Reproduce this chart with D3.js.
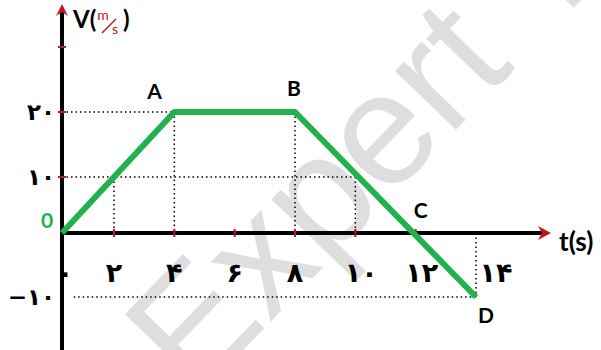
<!DOCTYPE html>
<html>
<head>
<meta charset="utf-8">
<script src="https://cdn.jsdelivr.net/npm/d3@7"></script>
<style>
  body { margin: 0; background: #fff; }
  svg { display: block; }
</style>
</head>
<body>
<script>
// v-t graph data
var times  = [0, 4, 8, 14];
var speeds = [0, 20, 20, -10];
var pointNames = ["O", "A", "B", "C", "D"];
var pointTimes = [0, 4, 8, 12, 14];
var pointSpeeds = [0, 20, 20, 0, -10];

var xTicks = [0, 2, 4, 6, 8, 10, 12, 14];
var xTickLabels = ["۰", "۲", "۴", "۶", "۸", "۱۰", "۱۲", "۱۴"];
var yTicks = [20, 10, -10];
var yTickLabels = ["۲۰", "۱۰", "−۱۰"];
var redYTicks = [10, 20, 30];
var redXTicks = [2, 4, 6, 8, 10, 12];

// dotted guide lines  [t0, v0, t1, v1]
var guides = [
  [0, 20, 4, 20], [0, 10, 10, 10], [0.45, -10, 14, -10],
  [2, 10, 2, 0], [4, 20, 4, 0], [8, 20, 8, 0], [10, 10, 10, 0], [14, 0, 14, -10]
];

var width = 601, height = 350;

var x = d3.scaleLinear().domain([0, 2, 14]).range([62, 114, 476]);
var y = d3.scaleLinear().domain([-10, 0, 10, 20, 30]).range([297, 233, 177, 112, 47]);

var svg = d3.select("body").append("svg")
    .attr("width", width)
    .attr("height", height);

// guides
svg.selectAll(".guide")
    .data(guides)
    .enter().append("line")
    .attr("class", "guide")
    .attr("x1", function(d) { return x(d[0]); })
    .attr("y1", function(d) { return y(d[1]); })
    .attr("x2", function(d) { return x(d[2]); })
    .attr("y2", function(d) { return y(d[3]); })
    .attr("stroke", "#000")
    .attr("stroke-width", 1.5)
    .attr("stroke-dasharray", "1.5,3");

// axes lines
svg.append("line")
    .attr("x1", x(0)).attr("y1", 8)
    .attr("x2", x(0)).attr("y2", height)
    .attr("stroke", "#000").attr("stroke-width", 4);
svg.append("line")
    .attr("x1", x(0)).attr("y1", y(0))
    .attr("x2", 546).attr("y2", y(0))
    .attr("stroke", "#000").attr("stroke-width", 4);

// red arrow heads
svg.append("path")
    .attr("d", "M" + (x(0) - 6) + ",16 L" + x(0) + ",4 L" + (x(0) + 6) + ",16 L" + x(0) + ",12 Z")
    .attr("fill", "#c0161c");
svg.append("path")
    .attr("d", "M538," + (y(0) - 7) + " L551," + y(0) + " L538," + (y(0) + 7) + " L542," + y(0) + " Z")
    .attr("fill", "#c0161c");

// red tick marks
svg.selectAll(".ytick")
    .data(redYTicks)
    .enter().append("line")
    .attr("x1", x(0) - 4).attr("x2", x(0) + 4)
    .attr("y1", function(d) { return y(d); })
    .attr("y2", function(d) { return y(d); })
    .attr("stroke", "#c0161c").attr("stroke-width", 2);
svg.selectAll(".xtick")
    .data(redXTicks)
    .enter().append("line")
    .attr("y1", y(0) - 4).attr("y2", y(0) + 4)
    .attr("x1", function(d) { return x(d); })
    .attr("x2", function(d) { return x(d); })
    .attr("stroke", "#c0161c").attr("stroke-width", 2);

// graph line
var line = d3.line()
    .x(function(d, i) { return x(times[i]); })
    .y(function(d) { return y(d); });

svg.append("path")
    .datum(speeds)
    .attr("d", line)
    .attr("fill", "none")
    .attr("stroke", "#22b14c")
    .attr("stroke-width", 6)
    .attr("stroke-linejoin", "round");

// tick labels
var labelFont = "'DejaVu Sans', sans-serif";
svg.selectAll(".xlab")
    .data(xTicks)
    .enter().append("text")
    .attr("x", function(d, i) { return x(d) + (d == 0 ? 3 : 0) + (d >= 10 ? 6 : 0) + (d == 14 ? 14 : 0); })
    .attr("y", 282)
    .attr("text-anchor", "middle")
    .attr("font-family", labelFont)
    .attr("font-weight", "bold")
    .attr("font-size", 27)
    .attr("letter-spacing", -1)
    .text(function(d, i) { return xTickLabels[i]; });

svg.selectAll(".ylab")
    .data(yTicks)
    .enter().append("text")
    .attr("x", 55)
    .attr("y", function(d) { return y(d) + 8; })
    .attr("text-anchor", "end")
    .attr("font-family", labelFont)
    .attr("font-weight", "bold")
    .attr("font-size", 23)
    .text(function(d, i) { return yTickLabels[i]; });

// point names
var nameOffsets = [[-21, -5], [-27, -13], [-8, -16], [-2, -15], [2, 26]];
svg.selectAll(".pname")
    .data(pointNames)
    .enter().append("text")
    .attr("x", function(d, i) { return x(pointTimes[i]) + nameOffsets[i][0]; })
    .attr("y", function(d, i) { return y(pointSpeeds[i]) + nameOffsets[i][1]; })
    .attr("font-family", "Lato, sans-serif")
    .attr("font-weight", "bold")
    .attr("font-size", 21)
    .attr("fill", function(d) { return d == "O" ? "#22b14c" : "#000"; })
    .text(function(d) { return d == "O" ? "0" : d; });

// axis titles
var vt = svg.append("text")
    .attr("x", 73).attr("y", 28)
    .attr("font-family", "Lato, sans-serif")
    .attr("font-weight", "bold")
    .attr("font-size", 24);
vt.append("tspan").text("V(");
vt.append("tspan").attr("fill", "#c0161c").attr("font-size", 14).attr("font-weight", "normal")
    .attr("dx", 1).attr("dy", -8).text("m");
svg.append("text")
    .attr("x", 112).attr("y", 34)
    .attr("font-family", "Lato, sans-serif")
    .attr("font-size", 14)
    .attr("fill", "#c0161c")
    .text("s");
svg.append("line")
    .attr("x1", 102).attr("y1", 33).attr("x2", 116).attr("y2", 19)
    .attr("stroke", "#c0161c").attr("stroke-width", 1.5);
svg.append("text")
    .attr("x", 123).attr("y", 28)
    .attr("font-family", "Lato, sans-serif")
    .attr("font-weight", "bold")
    .attr("font-size", 24)
    .text(")");

svg.append("text")
    .attr("x", 559).attr("y", 251)
    .attr("font-family", "Lato, sans-serif")
    .attr("font-weight", "bold")
    .attr("font-size", 26)
    .text("t(s)");

// watermark
svg.append("text")
    .attr("transform", "translate(195,400) rotate(-46)")
    .attr("font-family", "'Liberation Sans', sans-serif")
    .attr("font-size", 160)
    .attr("fill", "#000")
    .attr("fill-opacity", 0.13)
    .text("Expert T");
</script>
</body>
</html>
